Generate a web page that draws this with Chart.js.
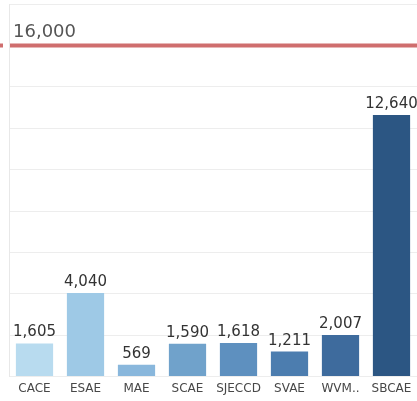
<!DOCTYPE html>
<html>
<head>
<meta charset="utf-8">
<script src="https://cdn.jsdelivr.net/npm/chart.js@4"></script>
<style>
  html, body { margin: 0; padding: 0; background: #fff; }
  #wrap { width: 417px; height: 401px; }
</style>
</head>
<body>
<div id="wrap"><canvas id="chart"></canvas></div>
<script>
// data
const categories = ['CACE', 'ESAE', 'MAE', 'SCAE', 'SJECCD', 'SVAE', 'WVM..', 'SBCAE'];
const values = [1605, 4040, 569, 1590, 1618, 1211, 2007, 12640];
const barColors = ['#b8dbef', '#9ec9e6', '#89b7dc', '#70a2cb', '#5e90bf', '#4c7daf', '#3e6b9d', '#2c5683'];
const refValue = 16000;
const yMax = 18000;
const yStep = 2000;

// labels on top of bars + reference line
const labelPlugin = {
  id: 'labels',
  afterDatasetsDraw(chart) {
    const ctx = chart.ctx;
    const y = chart.scales.y;
    const area = chart.chartArea;
    ctx.save();

    // red reference line
    const ry = y.getPixelForValue(refValue);
    ctx.strokeStyle = '#cf6e6e';
    ctx.lineWidth = 4;
    ctx.beginPath();
    ctx.moveTo(area.left + 1, ry);
    ctx.lineTo(area.right, ry);
    ctx.moveTo(0, ry);
    ctx.lineTo(3, ry);
    ctx.stroke();

    ctx.fillStyle = '#555';
    ctx.font = '18px "DejaVu Sans"';
    ctx.textAlign = 'left';
    ctx.textBaseline = 'alphabetic';
    ctx.fillText(refValue.toLocaleString('en-US'), area.left + 4, ry - 8);

    // value labels
    ctx.fillStyle = '#333';
    ctx.font = '15px "DejaVu Sans"';
    ctx.textAlign = 'center';
    chart.getDatasetMeta(0).data.forEach((bar, i) => {
      ctx.fillText(values[i].toLocaleString('en-US'), bar.x, bar.y - 7);
    });
    ctx.restore();
  }
};

new Chart(document.getElementById('chart'), {
  type: 'bar',
  data: {
    labels: categories,
    datasets: [{
      data: values,
      backgroundColor: barColors,
      categoryPercentage: 1,
      barPercentage: 0.73
    }]
  },
  options: {
    responsive: true,
    maintainAspectRatio: false,
    animation: false,
    layout: { padding: { left: 9, top: 4, right: 0, bottom: 0 } },
    plugins: {
      legend: { display: false },
      tooltip: { enabled: false }
    },
    scales: {
      x: {
        grid: { display: false, drawTicks: false },
        border: { display: false },
        ticks: {
          color: '#474747',
          font: { family: '"DejaVu Sans"', size: 12 },
          padding: 5,
          autoSkip: false,
          maxRotation: 0
        }
      },
      y: {
        min: 0,
        max: yMax,
        ticks: { display: false, stepSize: yStep },
        grid: { color: '#ededed', drawTicks: false },
        border: { display: true, color: '#e8e8e8' }
      }
    }
  },
  plugins: [labelPlugin]
});
</script>
</body>
</html>
